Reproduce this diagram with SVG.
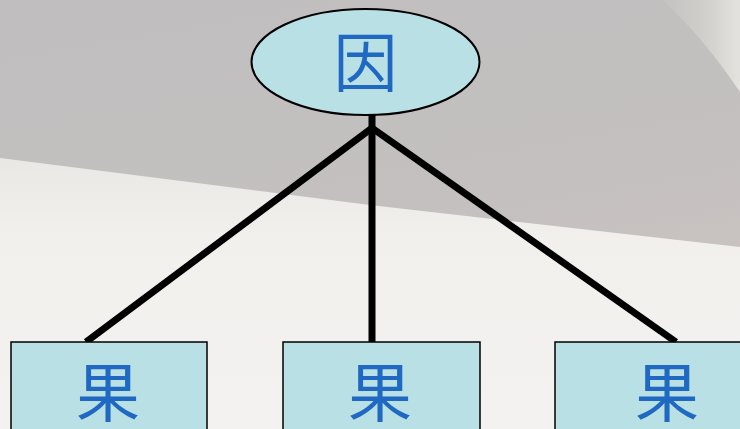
<svg xmlns="http://www.w3.org/2000/svg" width="740" height="429" viewBox="0 0 740 429">
  <defs>
    <linearGradient id="bgTop" x1="0" y1="0" x2="0.3" y2="1">
      <stop offset="0" stop-color="#c0bebf"/>
      <stop offset="0.6" stop-color="#c4c0c0"/>
      <stop offset="1" stop-color="#cdc4c1"/>
    </linearGradient>
    <linearGradient id="bgBottom" x1="0" y1="0" x2="0" y2="1">
      <stop offset="0" stop-color="#eae8e5"/>
      <stop offset="0.3" stop-color="#f1f0ed"/>
      <stop offset="1" stop-color="#f3f2f0"/>
    </linearGradient>
    <linearGradient id="swoosh" x1="0" y1="0" x2="1" y2="0">
      <stop offset="0" stop-color="#c8c7c4" stop-opacity="0.5"/>
      <stop offset="0.6" stop-color="#d2d1cd"/>
      <stop offset="1" stop-color="#e4e3df"/>
    </linearGradient>
    <style>
      .node { fill: #b9e0e4; stroke: #000000; }
      .label { font-family: "Noto Sans CJK SC", "Noto Sans CJK JP", sans-serif; font-size: 64px; fill: #1f69c2; text-anchor: middle; }
      .edge { stroke: #000000; stroke-width: 7; fill: none; }
    </style>
  </defs>

  <g id="background">
    <rect x="0" y="0" width="740" height="429" fill="url(#bgTop)"/>
    <path d="M662,0 C690,25 715,55 740,92 L740,0 Z" fill="url(#swoosh)"/>
    <path d="M0,158 L370,205 L740,247 L740,429 L0,429 Z" fill="url(#bgBottom)"/>
  </g>

  <g id="connectors">
    <line class="edge" x1="372" y1="114" x2="372" y2="342"/>
    <line class="edge" x1="372" y1="128" x2="86" y2="342"/>
    <line class="edge" x1="372" y1="128" x2="676" y2="342"/>
  </g>

  <g id="cause">
    <ellipse class="node" cx="365.5" cy="62" rx="114" ry="53" stroke-width="2"/>
    <text class="label" x="365.5" y="86">因</text>
  </g>

  <g id="effect1">
    <rect class="node" x="11" y="342" width="196" height="100" stroke-width="1.5"/>
    <text class="label" x="108" y="416">果</text>
  </g>

  <g id="effect2">
    <rect class="node" x="283" y="342" width="197" height="100" stroke-width="1.5"/>
    <text class="label" x="380" y="416">果</text>
  </g>

  <g id="effect3">
    <rect class="node" x="555" y="342" width="200" height="100" stroke-width="1.5"/>
    <text class="label" x="667" y="416">果</text>
  </g>
</svg>
